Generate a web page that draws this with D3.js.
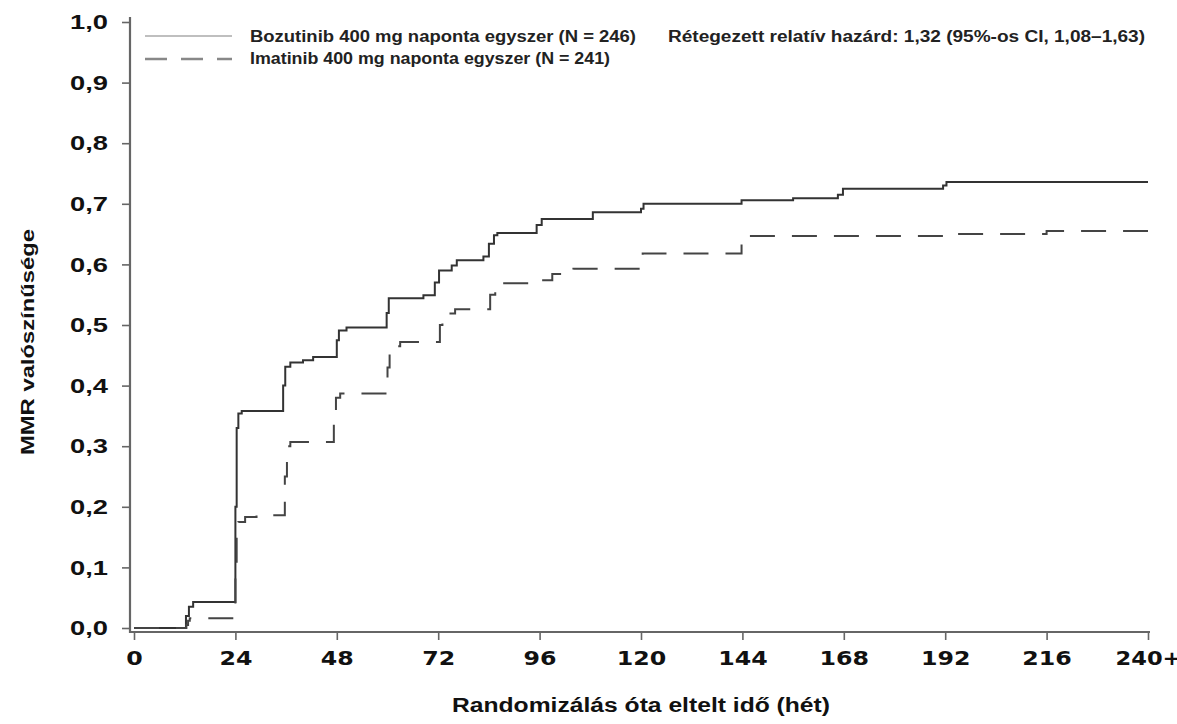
<!DOCTYPE html>
<html><head><meta charset="utf-8">
<script src="https://cdn.jsdelivr.net/npm/d3@7"></script>
<style>body{margin:0;background:#fff}svg{display:block}</style>
</head><body>
<svg id="c" width="1177" height="724"></svg>
<script>
// Data
const xTicks = [0,24,48,72,96,120,144,168,192,216,240];
const xTickLabels = ["0","24","48","72","96","120","144","168","192","216","240+"];
const yTicks = [0,0.1,0.2,0.3,0.4,0.5,0.6,0.7,0.8,0.9,1.0];
const yTickLabels = ["0,0","0,1","0,2","0,3","0,4","0,5","0,6","0,7","0,8","0,9","1,0"];
const seriesNames = ["Bozutinib 400 mg naponta egyszer (N = 246)","Imatinib 400 mg naponta egyszer (N = 241)"];
const hazardText = "Rétegezett relatív hazárd: 1,32 (95%-os CI, 1,08–1,63)";
const xTitle = "Randomizálás óta eltelt idő (hét)";
const yTitle = "MMR valószínűsége";
const bosWeeks = [0,12.3,13,14,24,24.3,24.7,25.5,35.3,35.8,37,40,42.4,48,48.5,50.3,59.8,60.3,68.5,71.2,72.2,75.2,76.4,82.7,84,85.2,86,95.3,96.5,108.6,120,120.6,143.8,156,166.6,167.8,191.5,192.3,240];
const bosValues = [0,0.02,0.035,0.043,0.2,0.33,0.354,0.358,0.40,0.431,0.438,0.442,0.447,0.475,0.491,0.496,0.52,0.544,0.549,0.57,0.590,0.598,0.607,0.613,0.634,0.648,0.652,0.665,0.675,0.686,0.692,0.700,0.706,0.709,0.715,0.725,0.730,0.736,0.736];
const imaWeeks = [0,12.4,12.8,13.2,24,24.3,24.7,26.3,29,35.7,36.2,37,47.3,47.8,48.8,60,60.5,63,72.4,73,76,84.3,85.5,95.3,99,101.5,104,119.8,120.4,143.8,144.5,145.5,192.3,216,240];
const imaValues = [0,0.005,0.012,0.016,0.10,0.15,0.175,0.183,0.186,0.25,0.30,0.307,0.34,0.38,0.387,0.43,0.465,0.472,0.50,0.519,0.526,0.55,0.569,0.574,0.584,0.587,0.593,0.605,0.618,0.635,0.645,0.647,0.650,0.655,0.655];

const svg = d3.select("#c");
const x = d3.scaleLinear().domain([0,240]).range([134,1148]);
const y = d3.scaleLinear().domain([0,1]).range([628,22]);
const axisCol = "#666";

// axes
const xa = svg.append("g").attr("transform","translate(0,632)")
  .call(d3.axisBottom(x).tickValues(xTicks).tickSize(8).tickPadding(12)
    .tickFormat((d,i)=>xTickLabels[i]));
xa.select(".domain").remove();
xa.selectAll(".tick line").attr("stroke",axisCol).attr("stroke-width",1.6);
xa.selectAll(".tick text").attr("font-family","DejaVu Sans").attr("font-weight","bold")
  .attr("font-size",19).attr("fill","#111")
  .attr("textLength",(d,i)=>xTickLabels[i].length*16.5).attr("lengthAdjust","spacingAndGlyphs");
svg.append("line").attr("x1",129).attr("x2",1150).attr("y1",632).attr("y2",632)
  .attr("stroke",axisCol).attr("stroke-width",2.2);

const ya = svg.append("g").attr("transform","translate(130,0)")
  .call(d3.axisLeft(y).tickValues(yTicks).tickSize(8).tickPadding(14)
    .tickFormat((d,i)=>yTickLabels[i]));
ya.select(".domain").remove();
ya.selectAll(".tick line").attr("stroke",axisCol).attr("stroke-width",1.6);
ya.selectAll(".tick text").attr("font-family","Liberation Sans").attr("font-weight","bold")
  .attr("font-size",21).attr("fill","#111")
  .attr("textLength",38).attr("lengthAdjust","spacingAndGlyphs");
svg.append("line").attr("x1",130).attr("x2",130).attr("y1",17).attr("y2",633)
  .attr("stroke",axisCol).attr("stroke-width",2.2);

// curves
const line = d3.line().x(d=>x(d[0])).y(d=>y(d[1])).curve(d3.curveStepAfter);
const bos = bosWeeks.map((w,i)=>[w,bosValues[i]]);
const ima = imaWeeks.map((w,i)=>[w,imaValues[i]]);
svg.append("path").attr("d",line(bos)).attr("fill","none").attr("stroke","#333").attr("stroke-width",2);
svg.append("path").attr("d",line(ima)).attr("fill","none").attr("stroke","#444").attr("stroke-width",2)
  .attr("stroke-dasharray","25,17");

// legend
svg.append("line").attr("x1",145).attr("x2",232).attr("y1",36).attr("y2",36)
  .attr("stroke","#aaa").attr("stroke-width",1.5);
svg.append("line").attr("x1",145).attr("x2",232).attr("y1",59).attr("y2",59)
  .attr("stroke","#888").attr("stroke-width",2.5).attr("stroke-dasharray","22,14");
const lt = (t,xx,yy,len)=>svg.append("text").attr("x",xx).attr("y",yy).text(t)
  .attr("font-family","Liberation Sans Narrow, Liberation Sans").attr("font-weight","bold")
  .attr("font-size",16).attr("fill","#222").attr("textLength",len).attr("lengthAdjust","spacingAndGlyphs");
lt(seriesNames[0],250,42,386);
lt(seriesNames[1],250,64,360);
lt(hazardText,668,42,477);

// titles
svg.append("text").attr("x",641).attr("y",712).attr("text-anchor","middle").text(xTitle)
  .attr("font-family","Liberation Sans").attr("font-weight","bold").attr("font-size",20).attr("fill","#111")
  .attr("textLength",378).attr("lengthAdjust","spacingAndGlyphs");
svg.append("text").attr("transform","translate(34,342) rotate(-90)").attr("text-anchor","middle").text(yTitle)
  .attr("font-family","Liberation Sans").attr("font-weight","bold").attr("font-size",19).attr("fill","#111")
  .attr("textLength",226).attr("lengthAdjust","spacingAndGlyphs");
</script>
</body></html>
